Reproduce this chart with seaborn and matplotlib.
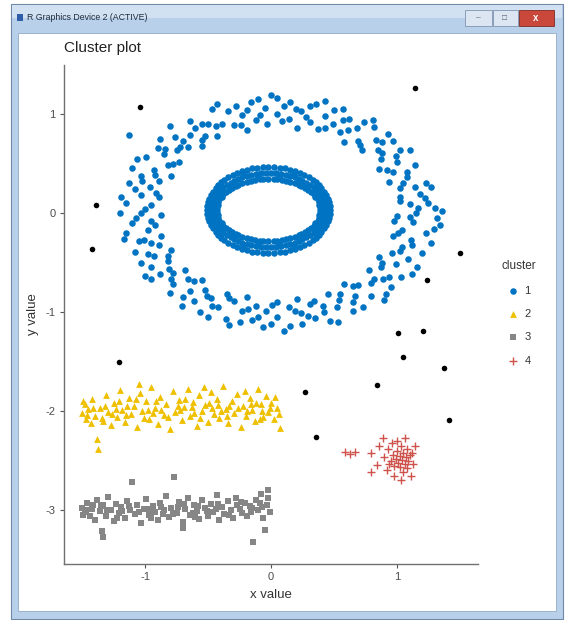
import pandas as pd
import seaborn as sns
import matplotlib.pyplot as plt
from matplotlib.patches import Rectangle

W, H = 565, 620

# cluster 1: outer ring
ring_outer = [
    (1.15, 0.00), (1.30, 0.05), (1.00, -0.03), (1.10, 0.09), (1.25, 0.10),
    (1.18, 0.19), (1.02, 0.16), (1.02, 0.25), (1.23, 0.30), (1.08, 0.36),
    (0.94, 0.31), (1.14, 0.48), (0.97, 0.41), (1.00, 0.52), (0.86, 0.44),
    (1.02, 0.64), (0.87, 0.55), (0.85, 0.64), (0.97, 0.73), (0.83, 0.74),
    (0.72, 0.64), (0.82, 0.87), (0.69, 0.73), (0.68, 0.86), (0.58, 0.72),
    (0.62, 0.95), (0.55, 0.82), (0.49, 0.90), (0.57, 1.05), (0.43, 0.98),
    (0.37, 0.85), (0.36, 1.10), (0.31, 0.92), (0.24, 1.03), (0.21, 0.86),
    (0.15, 1.12), (0.14, 0.95), (0.05, 1.00), (0.05, 1.16), (-0.05, 1.06),
    (-0.03, 0.90), (-0.16, 1.12), (-0.12, 0.94), (-0.23, 0.99), (-0.19, 0.84),
    (-0.34, 1.03), (-0.29, 0.89), (-0.39, 0.90), (-0.47, 1.05), (-0.50, 0.90),
    (-0.43, 0.78), (-0.64, 0.93), (-0.52, 0.78), (-0.64, 0.79), (-0.55, 0.68),
    (-0.76, 0.77), (-0.66, 0.67), (-0.75, 0.64), (-0.88, 0.75), (-0.85, 0.60),
    (-0.73, 0.52), (-0.99, 0.57), (-0.82, 0.48), (-0.93, 0.43), (-0.79, 0.37),
    (-1.03, 0.37), (-0.89, 0.32), (-0.96, 0.26), (-1.13, 0.30), (-1.03, 0.18),
    (-0.89, 0.16), (-1.15, 0.10), (-0.95, 0.08), (-1.03, 0.00), (-0.87, -0.02),
    (-1.10, -0.10), (-0.95, -0.08), (-0.98, -0.17), (-1.15, -0.20), (-1.01, -0.27),
    (-0.87, -0.23), (-1.08, -0.39), (-0.89, -0.32), (-0.93, -0.43), (-0.79, -0.37),
    (-0.95, -0.55), (-0.82, -0.48), (-0.81, -0.57), (-0.95, -0.67), (-0.79, -0.67),
    (-0.68, -0.58), (-0.80, -0.81), (-0.66, -0.67), (-0.64, -0.79), (-0.55, -0.68),
    (-0.61, -0.89), (-0.52, -0.78), (-0.48, -0.86), (-0.56, -1.00), (-0.42, -0.95),
    (-0.35, -0.82), (-0.36, -1.07), (-0.29, -0.89), (-0.23, -0.99), (-0.19, -0.85),
    (-0.15, -1.08), (-0.12, -0.94), (-0.04, -0.99), (-0.06, -1.15), (0.05, -1.05),
    (0.05, -0.90), (0.15, -1.14), (0.14, -0.95), (0.24, -1.01), (0.21, -0.87),
    (0.35, -1.06), (0.31, -0.92), (0.41, -0.94), (0.47, -1.09), (0.52, -0.95),
    (0.45, -0.82), (0.65, -0.99), (0.55, -0.82), (0.67, -0.84), (0.58, -0.72),
    (0.79, -0.84), (0.69, -0.73), (0.79, -0.71), (0.91, -0.82), (0.89, -0.67),
    (0.78, -0.58), (1.03, -0.65), (0.87, -0.55), (0.99, -0.51), (0.86, -0.44),
    (1.09, -0.46), (0.96, -0.40), (1.04, -0.34), (1.20, -0.40), (1.11, -0.27),
    (0.97, -0.23), (1.23, -0.20), (1.04, -0.17), (1.13, -0.09), (0.98, -0.08),
    (1.17, 0.05), (1.02, 0.12), (1.27, 0.26), (1.05, 0.30), (1.08, 0.41),
    (0.92, 0.43), (1.10, 0.64), (0.88, 0.61), (0.88, 0.72), (0.71, 0.69),
    (0.81, 0.94), (0.61, 0.84), (0.57, 0.94), (0.43, 0.86), (0.43, 1.13),
    (0.28, 0.97), (0.20, 1.05), (0.09, 0.93), (0.00, 1.19), (-0.09, 0.99),
    (-0.19, 1.04), (-0.24, 0.89), (-0.43, 1.10), (-0.44, 0.88), (-0.55, 0.90),
    (-0.55, 0.74), (-0.80, 0.88), (-0.72, 0.67), (-0.84, 0.65), (-0.78, 0.50),
    (-1.06, 0.55), (-0.92, 0.38), (-1.02, 0.32), (-0.91, 0.20), (-1.19, 0.16),
    (-1.00, 0.04), (-1.07, -0.05), (-0.92, -0.12), (-1.17, -0.26), (-0.95, -0.30),
    (-0.98, -0.41), (-0.82, -0.43), (-1.00, -0.64), (-0.78, -0.61), (-0.78, -0.72),
    (-0.61, -0.69), (-0.71, -0.94), (-0.51, -0.84), (-0.47, -0.94), (-0.33, -0.86),
    (-0.33, -1.13), (-0.18, -0.97), (-0.10, -1.05), (0.01, -0.93), (0.10, -1.19),
    (0.19, -0.99), (0.29, -1.04), (0.34, -0.89), (0.53, -1.10), (0.54, -0.88),
    (0.65, -0.90), (0.65, -0.74), (0.90, -0.88), (0.82, -0.67), (0.94, -0.65),
    (0.88, -0.50), (1.16, -0.55), (1.02, -0.38), (1.12, -0.32), (1.01, -0.20),
    (1.29, -0.16), (1.10, -0.04), (-1.13, 0.79), (1.36, 0.02), (1.34, -0.12),
    (1.22, 0.15), (1.14, 0.26), (0.99, 0.58), (0.93, 0.80), (0.74, 0.92),
    (0.50, 1.04), (0.31, 1.08), (0.10, 1.08), (-0.10, 1.15), (-0.28, 1.08),
    (-0.60, 0.86), (-0.70, 0.73), (-0.90, 0.66), (-1.10, 0.45), (-1.08, 0.24),
    (-1.20, 0.00), (-1.05, -0.28), (-1.03, -0.50), (-0.88, -0.62), (-0.70, -0.85),
    (-0.50, -1.05), (-0.25, -1.10), (0.00, -1.12), (0.25, -1.12), (0.42, -1.00),
    (0.73, -0.95), (0.95, -0.75), (1.12, -0.62), (1.27, -0.30), (1.32, -0.05),
]

# cluster 1: inner ring
ring_inner = [
    (0.39, 0.06), (-0.43, 0.06), (-0.43, 0.00), (0.39, 0.00),
    (0.38, 0.08), (-0.42, 0.08), (-0.42, -0.02), (0.38, -0.02),
    (0.38, 0.11), (-0.42, 0.11), (-0.42, -0.05), (0.38, -0.05),
    (0.37, 0.14), (-0.41, 0.14), (-0.41, -0.08), (0.37, -0.08),
    (0.35, 0.16), (-0.39, 0.16), (-0.39, -0.10), (0.35, -0.10),
    (0.34, 0.19), (-0.38, 0.19), (-0.38, -0.13), (0.34, -0.13),
    (0.32, 0.21), (-0.36, 0.21), (-0.36, -0.15), (0.32, -0.15),
    (0.29, 0.23), (-0.33, 0.23), (-0.33, -0.17), (0.29, -0.17),
    (0.27, 0.25), (-0.31, 0.25), (-0.31, -0.19), (0.27, -0.19),
    (0.24, 0.27), (-0.28, 0.27), (-0.28, -0.21), (0.24, -0.21),
    (0.22, 0.28), (-0.26, 0.28), (-0.26, -0.22), (0.22, -0.22),
    (0.19, 0.30), (-0.23, 0.30), (-0.23, -0.24), (0.19, -0.24),
    (0.15, 0.31), (-0.19, 0.31), (-0.19, -0.25), (0.15, -0.25),
    (0.12, 0.32), (-0.16, 0.32), (-0.16, -0.26), (0.12, -0.26),
    (0.09, 0.33), (-0.13, 0.33), (-0.13, -0.27), (0.09, -0.27),
    (0.05, 0.34), (-0.09, 0.34), (-0.09, -0.28), (0.05, -0.28),
    (0.02, 0.34), (-0.06, 0.34), (-0.06, -0.28), (0.02, -0.28),
    (0.39, 0.03), (-0.43, 0.03), (-0.02, 0.34), (-0.02, -0.28),
    (0.47, 0.07), (-0.51, 0.07), (-0.51, -0.01), (0.47, -0.01),
    (0.46, 0.11), (-0.50, 0.11), (-0.50, -0.05), (0.46, -0.05),
    (0.45, 0.14), (-0.49, 0.14), (-0.49, -0.08), (0.45, -0.08),
    (0.44, 0.18), (-0.48, 0.18), (-0.48, -0.12), (0.44, -0.12),
    (0.42, 0.21), (-0.46, 0.21), (-0.46, -0.15), (0.42, -0.15),
    (0.40, 0.25), (-0.44, 0.25), (-0.44, -0.19), (0.40, -0.19),
    (0.38, 0.28), (-0.42, 0.28), (-0.42, -0.22), (0.38, -0.22),
    (0.36, 0.31), (-0.40, 0.31), (-0.40, -0.25), (0.36, -0.25),
    (0.33, 0.33), (-0.37, 0.33), (-0.37, -0.27), (0.33, -0.27),
    (0.30, 0.36), (-0.34, 0.36), (-0.34, -0.30), (0.30, -0.30),
    (0.26, 0.38), (-0.30, 0.38), (-0.30, -0.32), (0.26, -0.32),
    (0.23, 0.40), (-0.27, 0.40), (-0.27, -0.34), (0.23, -0.34),
    (0.19, 0.42), (-0.23, 0.42), (-0.23, -0.36), (0.19, -0.36),
    (0.15, 0.43), (-0.19, 0.43), (-0.19, -0.37), (0.15, -0.37),
    (0.11, 0.45), (-0.15, 0.45), (-0.15, -0.39), (0.11, -0.39),
    (0.07, 0.45), (-0.11, 0.45), (-0.11, -0.39), (0.07, -0.39),
    (0.02, 0.46), (-0.06, 0.46), (-0.06, -0.40), (0.02, -0.40),
    (0.47, 0.03), (-0.51, 0.03), (-0.02, 0.46), (-0.02, -0.40),
    (0.43, 0.05), (-0.47, 0.05), (-0.47, 0.01), (0.43, 0.01),
    (0.43, 0.08), (-0.47, 0.08), (-0.47, -0.02), (0.43, -0.02),
    (0.42, 0.11), (-0.46, 0.11), (-0.46, -0.05), (0.42, -0.05),
    (0.41, 0.14), (-0.45, 0.14), (-0.45, -0.08), (0.41, -0.08),
    (0.40, 0.17), (-0.44, 0.17), (-0.44, -0.11), (0.40, -0.11),
    (0.38, 0.20), (-0.42, 0.20), (-0.42, -0.14), (0.38, -0.14),
    (0.36, 0.23), (-0.40, 0.23), (-0.40, -0.17), (0.36, -0.17),
    (0.34, 0.26), (-0.38, 0.26), (-0.38, -0.20), (0.34, -0.20),
    (0.31, 0.28), (-0.35, 0.28), (-0.35, -0.22), (0.31, -0.22),
    (0.28, 0.30), (-0.32, 0.30), (-0.32, -0.24), (0.28, -0.24),
    (0.25, 0.32), (-0.29, 0.32), (-0.29, -0.26), (0.25, -0.26),
    (0.22, 0.34), (-0.26, 0.34), (-0.26, -0.28), (0.22, -0.28),
    (0.19, 0.36), (-0.23, 0.36), (-0.23, -0.30), (0.19, -0.30),
    (0.15, 0.37), (-0.19, 0.37), (-0.19, -0.31), (0.15, -0.31),
    (0.12, 0.38), (-0.16, 0.38), (-0.16, -0.32), (0.12, -0.32),
    (0.08, 0.39), (-0.12, 0.39), (-0.12, -0.33), (0.08, -0.33),
    (0.04, 0.40), (-0.08, 0.40), (-0.08, -0.34), (0.04, -0.34),
    (0.00, 0.40), (-0.04, 0.40), (-0.04, -0.34), (0.00, -0.34),
    (0.38, 0.15), (-0.42, 0.15), (-0.42, -0.09), (0.38, -0.09),
    (0.26, 0.29), (-0.30, 0.29), (-0.30, -0.23), (0.26, -0.23),
    (0.06, 0.37), (-0.10, 0.37), (-0.10, -0.31), (0.06, -0.31),
    (0.37, 0.26), (-0.41, 0.26), (-0.41, -0.20), (0.37, -0.20),
    (0.18, 0.39), (-0.22, 0.39), (-0.22, -0.33), (0.18, -0.33),
]

# cluster 2: yellow band around y = -2
cluster2 = [
    (-1.50, -2.02), (-1.48, -1.93), (-1.47, -2.08), (-1.45, -1.98), (-1.43, -2.12),
    (-1.42, -1.88), (-1.40, -2.05), (-1.38, -2.28), (-1.37, -2.38), (-1.36, -1.97),
    (-1.33, -2.10), (-1.31, -1.84), (-1.29, -2.01), (-1.27, -2.14), (-1.25, -1.92),
    (-1.22, -2.06), (-1.20, -1.79), (-1.18, -1.99), (-1.16, -2.11), (-1.13, -1.87),
    (-1.11, -2.03), (-1.09, -1.95), (-1.06, -2.16), (-1.04, -1.82), (-1.02, -2.00),
    (-0.99, -1.90), (-0.97, -2.08), (-0.95, -1.76), (-0.92, -1.97), (-0.90, -2.13),
    (-0.88, -1.86), (-0.85, -2.04), (-0.83, -1.93), (-0.80, -2.18), (-0.78, -1.80),
    (-0.76, -2.01), (-0.73, -1.89), (-0.71, -2.09), (-0.69, -1.96), (-0.66, -1.78),
    (-0.64, -2.05), (-0.62, -1.91), (-0.59, -2.15), (-0.57, -1.84), (-0.55, -2.00),
    (-0.52, -1.94), (-0.50, -2.11), (-0.48, -1.81), (-0.45, -2.03), (-0.43, -1.88),
    (-0.41, -2.07), (-0.38, -1.75), (-0.36, -1.98), (-0.34, -2.12), (-0.31, -1.90),
    (-0.29, -2.02), (-0.27, -1.83), (-0.24, -2.16), (-0.22, -1.95), (-0.20, -2.05),
    (-0.17, -1.87), (-0.15, -1.99), (-0.13, -2.10), (-0.10, -1.78), (-0.08, -1.93),
    (-0.06, -2.06), (-0.04, -1.85), (-0.02, -2.01), (0.00, -1.92), (0.02, -2.08),
    (0.05, -1.97), (0.07, -2.17), (-1.46, -2.04), (-1.34, -2.07), (-1.26, -2.03),
    (-1.14, -1.95), (-1.01, -2.07), (-0.87, -1.99), (-0.74, -1.95), (-0.61, -2.02),
    (-0.47, -1.97), (-0.33, -1.95), (-0.19, -2.00), (-0.07, -2.00), (-1.21, -1.90),
    (-0.94, -2.02), (-0.68, -1.88), (-0.40, -2.00), (-0.12, -1.92), (0.03, -1.86),
    (-1.49, -1.90), (-1.41, -1.97), (-1.32, -1.95), (-1.23, -1.98), (-1.15, -2.04),
    (-1.07, -1.88), (-0.98, -1.99), (-0.91, -1.90), (-0.82, -2.06), (-0.72, -1.99),
    (-0.63, -1.96), (-0.56, -2.07), (-0.49, -1.92), (-0.42, -1.94), (-0.35, -2.05),
    (-0.26, -1.97), (-0.16, -1.93), (-0.09, -2.08), (-0.01, -1.97), (0.06, -2.03),
    (-1.05, -1.73), (-0.53, -1.76), (-0.21, -1.80),
]

# cluster 3: grey band around y = -3
cluster3 = [
    (-1.50, -2.98), (-1.48, -3.02), (-1.46, -2.93), (-1.44, -3.06), (-1.42, -2.99),
    (-1.40, -3.10), (-1.38, -2.90), (-1.36, -3.01), (-1.34, -3.21), (-1.33, -2.95),
    (-1.31, -3.06), (-1.29, -2.87), (-1.27, -3.00), (-1.25, -3.11), (-1.23, -2.94),
    (-1.21, -3.03), (-1.19, -2.97), (-1.16, -3.08), (-1.14, -2.91), (-1.12, -3.00),
    (-1.10, -2.72), (-1.08, -3.04), (-1.06, -2.95), (-1.03, -3.13), (-1.01, -2.99),
    (-0.99, -2.89), (-0.97, -3.05), (-0.94, -2.96), (-0.92, -3.02), (-0.90, -3.10),
    (-0.88, -2.93), (-0.85, -3.00), (-0.83, -2.86), (-0.81, -3.07), (-0.79, -2.98),
    (-0.77, -2.67), (-0.75, -3.03), (-0.73, -2.92), (-0.70, -3.12), (-0.68, -2.99),
    (-0.66, -2.88), (-0.64, -3.05), (-0.61, -2.95), (-0.59, -3.01), (-0.57, -3.09),
    (-0.55, -2.90), (-0.52, -2.98), (-0.50, -3.06), (-0.48, -2.94), (-0.46, -3.02),
    (-0.43, -2.85), (-0.41, -3.10), (-0.39, -2.97), (-0.37, -3.04), (-0.34, -2.91),
    (-0.32, -3.00), (-0.30, -3.08), (-0.28, -2.88), (-0.25, -2.99), (-0.23, -3.03),
    (-0.21, -2.93), (-0.19, -3.06), (-0.17, -2.96), (-0.14, -3.32), (-0.12, -2.90),
    (-0.10, -3.00), (-0.08, -2.84), (-0.06, -3.08), (-0.05, -3.20), (-0.03, -2.95),
    (-0.02, -2.80), (-0.01, -3.02), (-1.47, -3.00), (-1.35, -2.96), (-1.18, -3.01),
    (-0.96, -2.99), (-0.74, -2.97), (-0.58, -2.96), (-0.44, -2.99), (-0.27, -2.95),
    (-0.15, -2.98), (-0.09, -2.93), (-0.62, -3.03), (-0.86, -3.04),
    (-1.49, -3.05), (-1.41, -2.95), (-1.30, -3.00), (-1.22, -3.08), (-1.13, -2.96),
    (-1.05, -3.02), (-0.95, -3.08), (-0.87, -2.97), (-0.78, -3.04), (-0.69, -2.94),
    (-0.60, -3.07), (-0.51, -3.01), (-0.42, -2.94), (-0.33, -3.05), (-0.24, -2.92),
    (-0.16, -3.02), (-0.07, -2.97), (-0.02, -2.88), (-1.33, -3.27), (-0.70, -3.18),
]

# cluster 4: red crosses near (1, -2.5)
cluster4 = [
    (0.59, -2.41), (0.63, -2.43), (0.67, -2.41), (0.79, -2.42), (0.79, -2.62),
    (0.84, -2.55), (0.86, -2.35), (0.89, -2.27), (0.90, -2.46), (0.92, -2.60),
    (0.93, -2.38), (0.95, -2.50), (0.96, -2.32), (0.97, -2.44), (0.98, -2.56),
    (0.99, -2.48), (1.00, -2.40), (1.01, -2.52), (1.02, -2.57), (1.02, -2.45),
    (1.03, -2.35), (1.04, -2.49), (1.05, -2.62), (1.05, -2.42), (1.06, -2.27),
    (1.06, -2.54), (1.07, -2.46), (1.08, -2.38), (1.08, -2.58), (1.09, -2.50),
    (1.10, -2.44), (1.11, -2.66), (1.12, -2.42), (1.13, -2.53), (1.14, -2.35),
    (0.98, -2.66), (1.00, -2.30), (0.94, -2.54), (1.03, -2.70),
]

# outliers (shown black, not in legend)
noise = [
    (-1.04, 1.07), (1.14, 1.26), (-1.39, 0.08), (-1.42, -0.36), (-1.21, -1.50),
    (0.27, -1.81), (0.36, -2.26), (0.84, -1.74), (1.01, -1.21), (1.05, -1.45),
    (1.21, -1.19), (1.24, -0.68), (1.37, -1.57), (1.41, -2.09), (1.50, -0.40),
]

cluster_labels = ["1", "2", "3", "4"]
cluster_colors = ["#0073C2", "#EFC000", "#868686", "#CD534C"]


def to_df(points):
    return pd.DataFrame(points, columns=["x", "y"])


c1 = pd.concat([to_df(ring_outer), to_df(ring_inner)], ignore_index=True)
c2 = to_df(cluster2)
c3 = to_df(cluster3)
c4 = to_df(cluster4)
c0 = to_df(noise)

sns.set_style("white")
plt.rcParams["font.family"] = ["Liberation Sans", "DejaVu Sans"]

fig = plt.figure(figsize=(W / 100, H / 100), dpi=100)


def fx(px):
    return px / W


def fy(py):
    return 1 - py / H


def box(x0, y0, x1, y1, **kw):
    fig.patches.append(Rectangle((fx(x0), fy(y1)), (x1 - x0) / W, (y1 - y0) / H,
                                 transform=fig.transFigure, zorder=-5, **kw))


# window frame of the R graphics device
box(11, 4, 563, 619, facecolor="#B9D0EA", edgecolor="#6F88A8", lw=0.8)
box(12, 5, 562, 18, facecolor="#D2E1F2", edgecolor="none")
box(18, 33, 556, 611, facecolor="white", edgecolor="#93AAC6", lw=0.6)
box(17, 14, 23, 21, facecolor="#2F5DA8", edgecolor="none")
fig.text(fx(27), fy(18), "R Graphics Device 2 (ACTIVE)", fontsize=6.3,
         color="#1E2A3A", va="center", ha="left")
box(465, 10, 492, 26, facecolor="#DCE6F2", edgecolor="#7E94AF", lw=0.6)
box(493, 10, 518, 26, facecolor="#DCE6F2", edgecolor="#7E94AF", lw=0.6)
box(519, 10, 554, 26, facecolor="#C9473B", edgecolor="#7E2A22", lw=0.6)
fig.text(fx(478), fy(18), "\u2013", fontsize=6, color="#4A5A70", ha="center", va="center")
fig.text(fx(505), fy(18), "\u25a1", fontsize=6, color="#4A5A70", ha="center", va="center")
fig.text(fx(536), fy(18), "x", fontsize=7, color="white", ha="center", va="center",
         fontweight="bold")

ax = fig.add_axes([fx(64), fy(564), (478 - 64) / W, (564 - 65) / H])
ax.set_facecolor("none")

sns.scatterplot(data=c1, x="x", y="y", ax=ax, color=cluster_colors[0], marker="o",
                s=22, linewidth=0, label=cluster_labels[0])
sns.scatterplot(data=c2, x="x", y="y", ax=ax, color=cluster_colors[1], marker="^",
                s=24, linewidth=0, label=cluster_labels[1])
sns.scatterplot(data=c3, x="x", y="y", ax=ax, color=cluster_colors[2], marker="s",
                s=18, linewidth=0, label=cluster_labels[2])
sns.scatterplot(data=c4, x="x", y="y", ax=ax, color=cluster_colors[3], marker="+",
                s=36, linewidth=1.0, label=cluster_labels[3])
sns.scatterplot(data=c0, x="x", y="y", ax=ax, color="black", marker="o",
                s=16, linewidth=0, legend=False)

ax.set_xlim(-1.643, 1.643)
ax.set_ylim(-3.545, 1.495)
ax.set_xticks([-1, 0, 1])
ax.set_yticks([-3, -2, -1, 0, 1])
ax.set_xticklabels(["-1", "0", "1"])
ax.set_yticklabels(["-3", "-2", "-1", "0", "1"])
ax.tick_params(axis="both", length=3, width=0.8, color="#555555",
               labelsize=8, labelcolor="#4D4D4D", pad=3, left=True, bottom=True)
for side in ["top", "right"]:
    ax.spines[side].set_visible(False)
for side in ["left", "bottom"]:
    ax.spines[side].set_color("#707070")
    ax.spines[side].set_linewidth(1.0)

ax.set_xlabel("x value", fontsize=9.5, color="#333333", labelpad=5)
ax.set_ylabel("y value", fontsize=9.5, color="#333333", labelpad=5)
fig.text(fx(64), fy(48), "Cluster plot", fontsize=11, color="#222222",
         ha="left", va="center")

leg = ax.legend(title="cluster", loc="center left", bbox_to_anchor=(fx(492), fy(313)),
                bbox_transform=fig.transFigure, frameon=False, fontsize=8,
                title_fontsize=8.5, labelspacing=1.2, handlelength=1.0,
                handletextpad=0.5, markerscale=1.0)
for t in leg.get_texts():
    t.set_color("#333333")
leg.get_title().set_color("#333333")

fig.savefig("out.png", dpi=100)
